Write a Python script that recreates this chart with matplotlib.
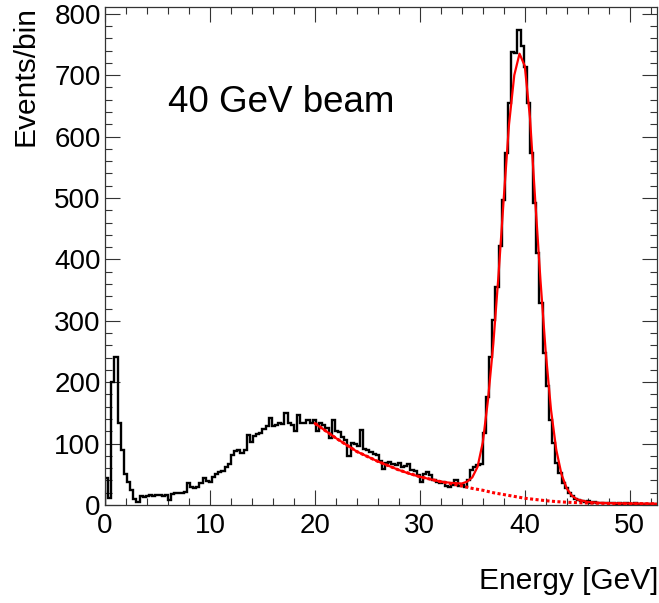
import matplotlib
matplotlib.use("Agg")
import matplotlib.pyplot as plt
import numpy as np

plt.rcParams['font.family'] = ['Liberation Sans', 'DejaVu Sans']

# Histogram: 0.3 GeV bins from 0 to 52.5 GeV, counts
bin_lo, bin_hi = 0.0, 52.5
counts = [
    44, 12, 200, 241, 133, 90, 50, 38, 24, 9,
    5, 14, 13, 15, 16, 15, 17, 16, 14, 17,
    8, 18, 19, 20, 19, 21, 36, 30, 28, 29,
    36, 44, 39, 38, 46, 50, 54, 55, 62, 67,
    82, 88, 89, 85, 90, 114, 102, 112, 115, 118,
    124, 129, 141, 128, 131, 134, 132, 150, 133, 131,
    120, 147, 133, 134, 138, 133, 138, 120, 133, 131,
    125, 109, 138, 121, 119, 110, 106, 79, 101, 100,
    96, 122, 92, 90, 86, 83, 81, 72, 58, 68,
    70, 66, 65, 68, 62, 64, 66, 57, 55, 49,
    37, 50, 53, 49, 40, 37, 36, 38, 31, 30,
    32, 41, 31, 33, 30, 40, 57, 62, 65, 66,
    117, 176, 241, 301, 355, 421, 497, 573, 654, 738,
    736, 773, 748, 714, 654, 573, 491, 410, 329, 247,
    193, 138, 101, 68, 52, 36, 28, 19, 14, 10,
    8, 6, 5, 6, 4, 5, 4, 3, 4, 3,
    3, 4, 2, 3, 2, 3, 2, 2, 3, 2,
    1, 2, 2, 1, 2,
]

# Fit (signal + background)
fit_e = [20, 21, 22, 23, 24, 25, 26, 27, 28, 29, 30, 31, 32, 33, 34, 34.5,
         35, 35.5, 36, 36.5, 37, 37.5, 38, 38.5, 39, 39.5, 40, 40.5, 41,
         41.5, 42, 42.5, 43, 43.5, 44, 44.5, 45, 46, 47, 48, 50, 52.5]
fit_n = [133, 121, 109, 98, 87, 79, 71, 64, 57, 51, 46, 42, 38, 36, 35, 38,
         45, 62, 102, 172, 262, 375, 500, 620, 700, 735, 715, 630, 495,
         365, 248, 155, 90, 50, 27, 15, 9, 5, 3.5, 3, 2.5, 2]

# Background component, red dotted line
bkg_e = [20, 22, 24, 26, 28, 30, 32, 34, 35, 36, 37, 38, 39, 40, 41, 42,
         43, 44, 45, 46, 48, 50, 52.5]
bkg_n = [133, 109, 87, 71, 57, 46, 38, 31, 27, 24, 20, 17, 14, 11, 9, 7,
         5.5, 4.5, 3.8, 3.2, 2.5, 2.2, 2]

fig = plt.figure(figsize=(6.59, 6.03), dpi=100)
ax = fig.add_axes([105/659, 1 - 505/603, 552/659, 498/603])

edges = np.linspace(bin_lo, bin_hi, len(counts) + 1)
ax.stairs(counts, edges, color='black', linewidth=1.7, zorder=2)
ax.plot(bkg_e, bkg_n, color='#ff0000', linestyle=(0, (1, 0.8)), linewidth=2.2, zorder=3)
ax.plot(fit_e, fit_n, color='#ff0000', linewidth=1.6, zorder=4)

ax.set_xlim(0, 52.6)
ax.set_ylim(0, 811)
ax.set_xticks([0, 10, 20, 30, 40, 50])
ax.set_xticks(np.arange(0, 53, 2), minor=True)
ax.set_yticks(np.arange(0, 801, 100))
ax.set_yticks(np.arange(0, 811, 20), minor=True)

ax.tick_params(which='both', direction='in', top=True, right=True, width=0.8, color='#333333')
ax.tick_params(which='major', length=10.5)
ax.tick_params(which='minor', length=5)
ax.tick_params(axis='x', labelsize=20, pad=6)
ax.tick_params(axis='y', labelsize=20, pad=3)
for s in ax.spines.values():
    s.set_linewidth(0.9)
    s.set_color('#333333')

fig.text(658/659, 1 - 589/603, 'Energy [GeV]', fontsize=21.5, ha='right', va='baseline')
fig.text(25/659, 1 - 6/603, 'Events/bin', fontsize=21.5, rotation=90, ha='center', va='top')
fig.text(168/659, 1 - 112/603, '40 GeV beam', fontsize=26.5, ha='left', va='baseline')

fig.savefig('out.png', dpi=100)
